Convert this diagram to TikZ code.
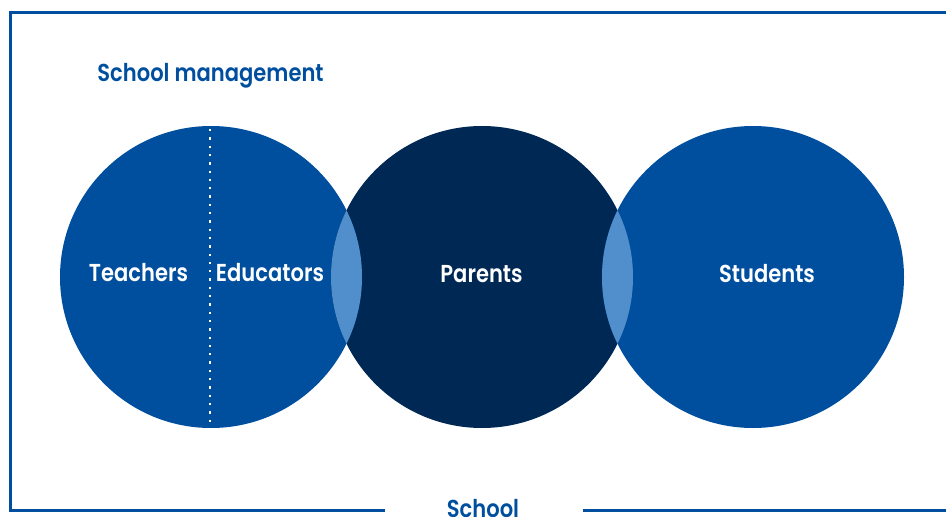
\documentclass[tikz,border=0pt]{standalone}
\usepackage{fontspec}
\setmainfont{Poppins SemiBold}[FakeStretch=0.86]
\definecolor{midblue}{RGB}{0,79,159}
\definecolor{navy}{RGB}{0,40,85}
\definecolor{lensblue}{RGB}{80,143,204}
\tikzset{
  bubble/.style={circle, inner sep=0pt, minimum size=302pt},
  lbl/.style={text=white, font=\fontsize{24.5}{28}\selectfont, anchor=base, inner sep=0pt},
  ttl/.style={text=midblue, font=\fontsize{24.5}{28}\selectfont, anchor=base, inner sep=0pt},
  frame/.style={draw=midblue, line width=3pt},
  dots/.style={draw=white, line width=2.3pt, dash pattern=on 2.3pt off 6pt}
}
\begin{document}
\begin{tikzpicture}[x=1pt,y=-1pt]
\useasboundingbox (0,0) rectangle (946,517);
% circles
\node[bubble, fill=midblue] (c1) at (211,277) {};
\node[bubble, fill=navy] (c2) at (482,277) {};
\node[bubble, fill=midblue] (c3) at (753,277) {};
% lenses
\begin{scope}
  \clip (211,277) circle (151pt);
  \fill[lensblue] (482,277) circle (151pt);
\end{scope}
\begin{scope}
  \clip (482,277) circle (151pt);
  \fill[lensblue] (753,277) circle (151pt);
\end{scope}
% dotted divider
\coordinate (dtop) at (210,129);
\coordinate (dbot) at (210,428);
\draw[dots] (dtop) -- (dbot);
% labels
\node[lbl] (teach) at (138.5,281) {Teachers};
\node[lbl] (educ) at (270,281) {Educators};
\node[lbl] (par) at (481.5,282.5) {Parents};
\node[lbl] (stud) at (767,282.5) {Students};
\node[ttl] (mgmt) at (210.5,81.7) {School management};
% frame
\node[ttl, anchor=center] (school) at (483,509) {School};
\coordinate (bl) at (10,510);
\coordinate (tl) at (10,12.5);
\coordinate (tr) at (946,12.5);
\coordinate (l1) at (385,510);
\coordinate (r1) at (583,510);
\coordinate (br) at (946,510);
\draw[frame] (l1) -- (bl) -- (tl) -- (tr);
\draw[frame] (r1) -- (br);
\end{tikzpicture}
\end{document}
